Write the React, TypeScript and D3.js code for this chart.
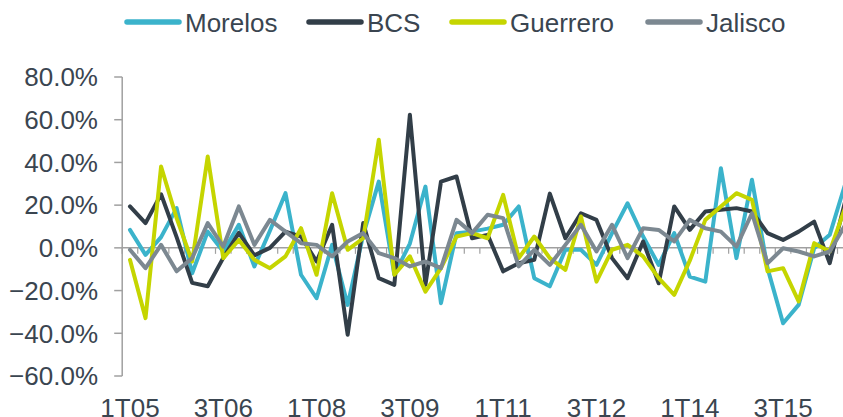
import React, { useRef, useEffect } from 'react';
import * as d3 from 'd3';

// quarterly growth rates (%), 1T05 .. 3T16
const quarters = [
  '1T05', '2T05', '3T05', '4T05', '1T06', '2T06', '3T06', '4T06',
  '1T07', '2T07', '3T07', '4T07', '1T08', '2T08', '3T08', '4T08',
  '1T09', '2T09', '3T09', '4T09', '1T10', '2T10', '3T10', '4T10',
  '1T11', '2T11', '3T11', '4T11', '1T12', '2T12', '3T12', '4T12',
  '1T13', '2T13', '3T13', '4T13', '1T14', '2T14', '3T14', '4T14',
  '1T15', '2T15', '3T15', '4T15', '1T16', '2T16', '3T16',
];

const morelos = [
  8.4, -3.3, 5, 18.6, -11.9, 7.6, -1.7, 10.8, -8.7, 8, 25.6, -12.6,
  -23.6, 1.4, -26.7, 6.1, 31, -12.6, 2, 28.7, -25.9, 6.9, 7.6, 9,
  10.8, 19.4, -14.2, -18, -0.9, -0.9, -8, 6.9, 20.9, 5.3, -8, 6.9,
  -13.5, -15.8, 37.3, -4.8, 31.9, -9.5, -35.3, -26.7, -0.2, 6.1, 30,
];

const bcs = [
  19.4, 11.6, 25.1, 5, -16.4, -18, -4.7, 7, -3.5, 0, 7.6, 5.3,
  -6.4, 10.8, -40.7, 11.6, -14.2, -17.3, 62.3, -17.3, 31, 33.4, 4.5, 6.1,
  -11, -7.2, -5.6, 25.4, 4.5, 16.2, 13.1, -4.8, -14.2, 3, -16.6, 19.4,
  8.4, 17, 17.8, 18.6, 17, 6.9, 3.7, 7.6, 12.3, -7.2, 22,
];

const guerrero = [
  -5.6, -32.9, 38.1, 13.9, -6.4, 42.8, -4.8, 3.7, -5.6, -9.5, -4, 9.2,
  -12.6, 25.6, -0.9, 4.5, 50.6, -12.6, -4, -20.5, -9.5, 5.3, 6.9, 4.5,
  24.8, -4.8, 5.3, -4.8, -10.3, 14.7, -15.8, -0.9, 1.4, -4, -14.2, -22,
  -6, 13.1, 19.4, 25.6, 22.5, -11, -9.5, -25.1, 2.2, -1.7, 19,
];

const jalisco = [
  -0.9, -9.5, 1.4, -11, -4.8, 11.6, 0.6, 19.4, 1.4, 13.1, 7.6, 2.2,
  1.4, -4, 3, 6.9, -2.5, -4.8, -8.7, -6.4, -9.5, 13.1, 6.9, 15.5,
  13.9, -8.7, -0.9, -8, 1.4, 10.8, -1.7, 10.8, -4.8, 9.2, 8.4, 3,
  13.1, 9.2, 7.6, 0.6, 16.2, -7.2, -0.2, -1.7, -4, -1.7, 10.8,
];

const seriesNames = ['Morelos', 'BCS', 'Guerrero', 'Jalisco'];
const seriesValues = [morelos, bcs, guerrero, jalisco];
const yTicks = [-60, -40, -20, 0, 20, 40, 60, 80];
const labelEvery = 6;

const colors = ['#3BB3CB', '#323E48', '#C5D500', '#7C8891'];
const textColor = '#3A4550';
const axisColor = '#A0A0A0';
const font = '"Liberation Sans", Arial, sans-serif';

const App = () => {
  const ref = useRef(null);

  useEffect(() => {
    const width = 843;
    const height = 417;
    const left = 122.2;
    const step = 15.55;

    const svg = d3.select(ref.current)
      .append('svg')
      .attr('width', width)
      .attr('height', height)
      .style('position', 'absolute')
      .style('left', '0px')
      .style('top', '0px')
      .style('background', '#fff');

    const x = d3.scaleBand()
      .domain(quarters)
      .range([left, left + step * quarters.length])
      .paddingInner(0)
      .paddingOuter(0);
    const cx = (q) => x(q) + x.bandwidth() / 2;

    const y = d3.scaleLinear().domain([-60, 80]).range([376, 77]);

    // y axis
    svg.append('line')
      .attr('x1', left).attr('x2', left)
      .attr('y1', y(80)).attr('y2', y(-60))
      .attr('stroke', axisColor).attr('stroke-width', 1.5);

    const yt = svg.append('g');
    yt.selectAll('line').data(yTicks).join('line')
      .attr('x1', left - 8).attr('x2', left)
      .attr('y1', d => y(d)).attr('y2', d => y(d))
      .attr('stroke', axisColor).attr('stroke-width', 1.5);
    yt.selectAll('text').data(yTicks).join('text')
      .attr('x', 98)
      .attr('y', d => y(d) + 9.3)
      .attr('text-anchor', 'end')
      .attr('font-family', font)
      .attr('font-size', 26)
      .attr('fill', textColor)
      .text(d => d3.format('.1f')(d) + '%');

    // x axis at zero
    svg.append('line')
      .attr('x1', left).attr('x2', width)
      .attr('y1', y(0)).attr('y2', y(0))
      .attr('stroke', axisColor).attr('stroke-width', 1.5);
    svg.append('g').selectAll('line').data(quarters).join('line')
      .attr('x1', d => x(d)).attr('x2', d => x(d))
      .attr('y1', y(0)).attr('y2', y(0) + 6)
      .attr('stroke', axisColor).attr('stroke-width', 1.2);

    svg.append('g').selectAll('text')
      .data(quarters.filter((_, i) => i % labelEvery === 0))
      .join('text')
      .attr('x', d => cx(d))
      .attr('y', 416.5)
      .attr('text-anchor', 'middle')
      .attr('font-family', font)
      .attr('font-size', 26)
      .attr('fill', textColor)
      .text(d => d);

    // lines
    const line = d3.line()
      .x((d, i) => cx(quarters[i]))
      .y(d => y(d));

    seriesValues.forEach((vals, s) => {
      svg.append('path')
        .datum(vals)
        .attr('d', line)
        .attr('fill', 'none')
        .attr('stroke', colors[s])
        .attr('stroke-width', 4)
        .attr('stroke-linejoin', 'round')
        .attr('stroke-linecap', 'round');
    });

    // legend
    const legendX = [125, 307, 450, 646];
    const lg = svg.append('g');
    seriesNames.forEach((name, s) => {
      lg.append('line')
        .attr('x1', legendX[s] + 2).attr('x2', legendX[s] + 54)
        .attr('y1', 22).attr('y2', 22)
        .attr('stroke', colors[s])
        .attr('stroke-width', 5.5)
        .attr('stroke-linecap', 'round');
      lg.append('text')
        .attr('x', legendX[s] + 60)
        .attr('y', 31.5)
        .attr('font-family', font)
        .attr('font-size', 26)
        .attr('fill', textColor)
        .text(name);
    });
  }, []);

  return <div ref={ref}></div>;
};

export default App;
